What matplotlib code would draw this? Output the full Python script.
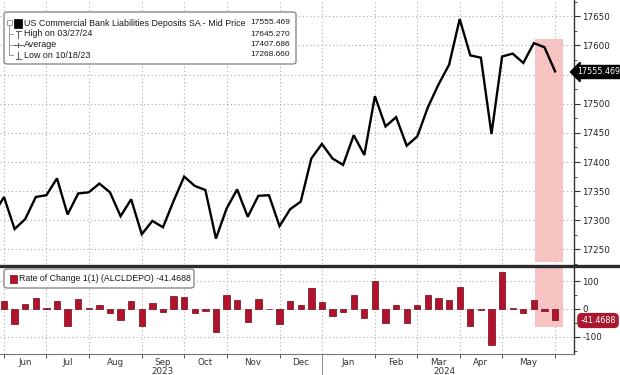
import matplotlib
matplotlib.use("Agg")
import matplotlib.pyplot as plt
import matplotlib.dates as mdates
from matplotlib.patches import FancyBboxPatch, Rectangle
from matplotlib.lines import Line2D
import numpy as np
import pandas as pd

# ---------------- data ----------------
week_start = "2023-05-24"          # first (off-screen) observation, weekly Wednesdays
levels = [17310,
          17340, 17285, 17302, 17340, 17343, 17372, 17310, 17346, 17348, 17363,
          17348, 17307, 17336, 17276, 17299, 17288, 17333, 17375, 17359, 17352,
          17268.66, 17320, 17353, 17306, 17342, 17343, 17290, 17319, 17332, 17406,
          17431, 17406, 17395, 17446, 17412, 17513, 17461, 17477, 17428, 17444,
          17494, 17533, 17567, 17645.27, 17583, 17579, 17448, 17581, 17586, 17570,
          17604, 17596.94, 17555.469]
roc = [30, -55, 17, 38, 3, 29, -62, 36, 2, 15,
       -15, -41, 29, -60, 23, -11, 45, 42, -16, -7,
       -83, 51, 33, -47, 36, 1, -53, 29, 13, 74,
       25, -25, -11, 51, -34, 101, -52, 16, -49, 16,
       50, 39, 34, 78.27, -62.27, -4, -131, 133, 5, -16,
       34, -7.06, -41.4688]
month_ticks = ["2023-05-31", "2023-06-28", "2023-07-26", "2023-08-30", "2023-09-27",
               "2023-10-25", "2023-11-29", "2023-12-27", "2024-01-31", "2024-02-28",
               "2024-03-27", "2024-04-24", "2024-05-29"]
month_labels = ["Jun", "Jul", "Aug", "Sep", "Oct", "Nov", "Dec", "Jan", "Feb", "Mar", "Apr", "May"]
year_labels = ["2023", "2024"]
year_split = "2023-12-27"
top_ticks = [17250, 17300, 17350, 17400, 17450, 17500, 17550, 17600, 17650]
top_tick_labels = ["17250", "17300", "17350", "17400", "17450", "17500", "", "17600", "17650"]
bot_ticks = [-100, 0, 100]
legend_rows = [("US Commercial Bank Liabilities Deposits SA - Mid Price", "17555.469"),
               ("High on 03/27/24", "17645.270"),
               ("Average", "17407.686"),
               ("Low on 10/18/23", "17268.660")]
roc_label = "Rate of Change 1(1) (ALCLDEPO) -41.4688"
last_level_label = "17555.469"
last_roc_label = "-41.4688"
highlight = ("2024-05-16", "2024-06-03")

# ---------------- figure ----------------
W, H = 620, 375
plt.rcParams['font.family'] = ['DejaVu Sans']
fig = plt.figure(figsize=(W / 100, H / 100), dpi=100)
fig.patch.set_facecolor("white")

def fx(x):
    return x / W

def fy(y):
    return 1 - y / H

ax1 = fig.add_axes([0, fy(264), fx(574), 264 / H])
ax2 = fig.add_axes([0, fy(354), fx(574), 87 / H])

dates = pd.date_range(week_start, periods=len(levels), freq="7D")
bar_dates = dates[1:]
xl = (pd.Timestamp("2023-05-31") - pd.Timedelta(days=2.64),
      pd.Timestamp("2024-05-29") + pd.Timedelta(days=12.5))

grid_kw = dict(color="#ababab", linestyle=(0, (1, 2.4)), linewidth=0.8)
tick_dates = pd.to_datetime(month_ticks)

for ax in (ax1, ax2):
    ax.set_xlim(xl)
    ax.set_facecolor("white")
    for s in ("left", "top"):
        ax.spines[s].set_visible(False)
    ax.spines["right"].set_color("#333333")
    ax.spines["right"].set_linewidth(1.0)
    ax.yaxis.tick_right()
    ax.set_xticks(tick_dates)
    for d in tick_dates:
        ax.axvline(d, zorder=0, **grid_kw)
    ax.tick_params(axis="y", which="major", length=4, width=0.8, color="#333333",
                   labelsize=6.3, labelcolor="#222222", pad=2)
    ax.tick_params(axis="y", which="minor", length=2, width=0.6, color="#333333")

# top panel
ax1.plot(dates, levels, color="black", linewidth=1.7, zorder=3, solid_joinstyle="miter")
ax1.set_ylim(17229, 17678)
ax1.set_yticks(top_ticks)
ax1.set_yticks(np.arange(17225, 17676, 25), minor=True)
ax1.set_yticklabels(top_tick_labels)
for t in top_ticks:
    ax1.axhline(t, zorder=0, **grid_kw)
ax1.spines["bottom"].set_visible(False)
ax1.tick_params(axis="x", which="both", bottom=False, labelbottom=False)
h0, h1 = pd.Timestamp(highlight[0]), pd.Timestamp(highlight[1])
ax1.add_patch(Rectangle((mdates.date2num(h0), 17229), mdates.date2num(h1) - mdates.date2num(h0),
                        17611 - 17229, facecolor="#f7b9b9", edgecolor="none", alpha=0.85, zorder=1))

# bottom panel
ax2.bar(bar_dates, roc, width=4.2, color="#b3122d", edgecolor="#6a0a18", linewidth=0.5, zorder=3)
ax2.set_ylim(-162, 151)
ax2.set_yticks(bot_ticks)
ax2.set_yticklabels([str(t) for t in bot_ticks])
ax2.set_yticks([-150, -50, 50, 150], minor=True)
for t in bot_ticks:
    ax2.axhline(t, zorder=0, **grid_kw)
ax2.add_patch(Rectangle((mdates.date2num(h0), -65), mdates.date2num(h1) - mdates.date2num(h0),
                        151 + 65, facecolor="#f7b9b9", edgecolor="none", alpha=0.85, zorder=1))
ax2.spines["bottom"].set_color("#777777")
ax2.spines["bottom"].set_linewidth(0.8)
ax2.tick_params(axis="x", which="major", length=3, width=0.7, color="#555555", labelbottom=False)
mids = [tick_dates[i] + (tick_dates[i + 1] - tick_dates[i]) / 2 for i in range(len(tick_dates) - 1)]
ax2.set_xticks(mids, minor=True)
ax2.set_xticklabels(month_labels, minor=True)
ax2.tick_params(axis="x", which="minor", length=0, labelsize=6.3, labelcolor="#333333", pad=3)

# year labels
trans = matplotlib.transforms.blended_transform_factory(ax2.transData, fig.transFigure)
ys = pd.Timestamp(year_split)
ax2.text(pd.Timestamp("2023-05-31") + (ys - pd.Timestamp("2023-05-31")) / 2, fy(372), year_labels[0],
         transform=trans, ha="center", va="center", fontsize=6.3, color="#333333")
ax2.text(ys + (pd.Timestamp(xl[1]) - ys) / 2 - pd.Timedelta(days=2), fy(372), year_labels[1],
         transform=trans, ha="center", va="center", fontsize=6.3, color="#333333")
fig.add_artist(Line2D([mdates.date2num(ys)] * 2, [fy(354), fy(375)], transform=trans,
                      color="#888888", linewidth=0.7))

# separator between panels
fig.add_artist(Line2D([0, 1], [fy(265.5), fy(265.5)], color="#2b2b2b", linewidth=2.4))

# ---------------- legends ----------------
fig.add_artist(FancyBboxPatch((fx(4), fy(64)), fx(292), 52 / H,
                              boxstyle="round,pad=0,rounding_size=0.006",
                              facecolor="white", edgecolor="#8a8a8a", linewidth=1.0,
                              transform=fig.transFigure, zorder=5))
row_y = [23, 34, 44.5, 55]
for (lab, val), y in zip(legend_rows, row_y):
    fig.text(fx(24), fy(y), lab, fontsize=6.4, color="#1a1a1a", va="center", ha="left", zorder=6,
             family="Liberation Sans")
    fig.text(fx(290), fy(y), val, fontsize=6.0, color="#1a1a1a", va="center", ha="right", zorder=6,
             family="Liberation Sans")
# tree connector + icons
lc = "#9a9a9a"
fig.add_artist(Line2D([fx(9), fx(9)], [fy(25.5), fy(55)], color=lc, linewidth=0.7, zorder=6))
for y in row_y[1:]:
    fig.add_artist(Line2D([fx(9), fx(13)], [fy(y), fy(y)], color=lc, linewidth=0.7, zorder=6))
fig.add_artist(Rectangle((fx(7), fy(25)), fx(4.5), 4.5 / H, facecolor="white", edgecolor=lc,
                         linewidth=0.7, transform=fig.transFigure, zorder=7))
fig.add_artist(Rectangle((fx(13.5), fy(27.5)), fx(8.5), 8.5 / H, facecolor="black", edgecolor="black",
                         linewidth=0.5, transform=fig.transFigure, zorder=7))
mc = "#666666"
fig.add_artist(Line2D([fx(18), fx(18)], [fy(30.5), fy(37.5)], color=mc, linewidth=0.8, zorder=7))
fig.add_artist(Line2D([fx(15.5), fx(20.5)], [fy(30.5), fy(30.5)], color=mc, linewidth=0.8, zorder=7))
fig.add_artist(Line2D([fx(13.5), fx(22.5)], [fy(44.5), fy(44.5)], color=mc, linewidth=0.8, zorder=7))
fig.add_artist(Line2D([fx(18), fx(18)], [fy(42.5), fy(46.5)], color=mc, linewidth=0.8, zorder=7))
fig.add_artist(Line2D([fx(18), fx(18)], [fy(51.5), fy(58.5)], color=mc, linewidth=0.8, zorder=7))
fig.add_artist(Line2D([fx(15.5), fx(20.5)], [fy(58.5), fy(58.5)], color=mc, linewidth=0.8, zorder=7))

fig.add_artist(FancyBboxPatch((fx(4), fy(288)), fx(190), 19 / H,
                              boxstyle="round,pad=0,rounding_size=0.006",
                              facecolor="white", edgecolor="#8a8a8a", linewidth=1.0,
                              transform=fig.transFigure, zorder=5))
fig.add_artist(Rectangle((fx(10), fy(283)), fx(7), 8 / H, facecolor="#b3122d", edgecolor="#6a0a18",
                         linewidth=0.5, transform=fig.transFigure, zorder=7))
fig.text(fx(19.5), fy(278.5), roc_label, fontsize=6.3, color="#1a1a1a", va="center", ha="left",
         zorder=6, family="Liberation Sans")

# last-value tags on the right axis
fig.text(fx(599), fy(72), last_level_label, fontsize=5.8, color="white", va="center", ha="center",
         zorder=8, bbox=dict(boxstyle="larrow,pad=0.25", facecolor="black", edgecolor="black"))
fig.text(fx(598), fy(320.5), last_roc_label, fontsize=5.8, color="white", va="center", ha="center",
         zorder=8, bbox=dict(boxstyle="round,pad=0.3,rounding_size=0.5", facecolor="#a8192f",
                             edgecolor="#a8192f"))

fig.savefig("out.png", dpi=100, facecolor="white")
